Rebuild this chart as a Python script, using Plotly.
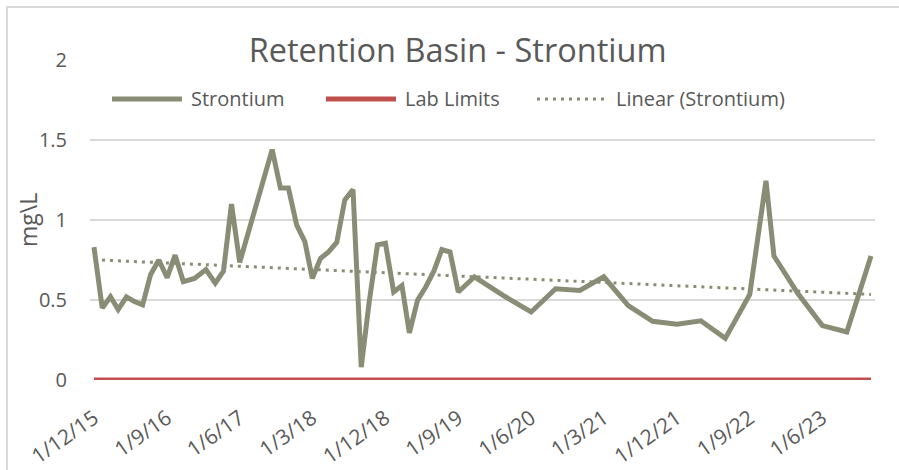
import numpy as np
import pandas as pd
import plotly.graph_objects as go

# ---------------- data ----------------
sample_dates = [
    "2015-12-01", "2016-01-01", "2016-02-01", "2016-03-01", "2016-04-01", "2016-05-01",
    "2016-06-01", "2016-07-01", "2016-08-01", "2016-09-01", "2016-10-01", "2016-11-01",
    "2016-12-13", "2017-01-25", "2017-03-01", "2017-04-01", "2017-05-01", "2017-06-01",
    "2017-10-01", "2017-11-01", "2017-12-01", "2018-01-01", "2018-02-01", "2018-03-01",
    "2018-04-01", "2018-05-01", "2018-06-01", "2018-07-01", "2018-08-01", "2018-09-01",
    "2018-10-01", "2018-11-01", "2018-12-01", "2019-01-01", "2019-02-01", "2019-03-01",
    "2019-04-01", "2019-05-01", "2019-06-01", "2019-07-01", "2019-08-01", "2019-09-01",
    "2019-11-01", "2020-02-15", "2020-06-01", "2020-09-01", "2020-12-01", "2021-03-01",
    "2021-06-01", "2021-09-01", "2021-12-01", "2022-03-01", "2022-06-01", "2022-09-01",
    "2022-11-01", "2022-12-01", "2023-03-01", "2023-06-01", "2023-09-01", "2023-12-01",
]
strontium = [
    0.83, 0.45, 0.52, 0.44, 0.52, 0.49,
    0.47, 0.66, 0.75, 0.64, 0.78, 0.615,
    0.635, 0.69, 0.605, 0.68, 1.10, 0.735,
    1.44, 1.20, 1.20, 0.97, 0.865, 0.635,
    0.76, 0.80, 0.86, 1.125, 1.19, 0.08,
    0.49, 0.845, 0.855, 0.55, 0.59, 0.295,
    0.50, 0.58, 0.68, 0.815, 0.80, 0.55,
    0.645, 0.53, 0.425, 0.57, 0.56, 0.645,
    0.465, 0.367, 0.348, 0.37, 0.26, 0.535,
    1.245, 0.775, 0.54, 0.34, 0.30, 0.775,
]
lab_limit_dates = ["2015-12-01", "2023-12-01"]
lab_limits = [0, 0]

tick_dates = ["2015-12-01", "2016-09-01", "2017-06-01", "2018-03-01", "2018-12-01",
              "2019-09-01", "2020-06-01", "2021-03-01", "2021-12-01", "2022-09-01",
              "2023-06-01"]
tick_labels = ["1/12/15", "1/9/16", "1/6/17", "1/3/18", "1/12/18", "1/9/19",
               "1/6/20", "1/3/21", "1/12/21", "1/9/22", "1/6/23"]
y_ticks = [0, 0.5, 1, 1.5, 2]
y_tick_labels = ["0", "0.5", "1", "1.5", "2"]

# ---------------- styling ----------------
W, H = 899, 470
ML, MR, MT, MB = 90, 24, 60, 90
PW, PH = W - ML - MR, H - MT - MB
FONT = "Open Sans"
TXT = "#595959"
C_SR = "#898D75"
C_LAB = "#C0504D"
DOTS = "3px,5px"


def px(x):
    return (x - ML) / PW


def py(y):
    return (H - MB - y) / PH


# linear trendline computed from the series (least squares on the dates)
d = pd.to_datetime(sample_dates)
days = (d - d[0]).days.values.astype(float)
slope, intercept = np.polyfit(days, np.array(strontium), 1)
trend_x = [sample_dates[0], sample_dates[-1]]
trend_y = [intercept + slope * days[0], intercept + slope * days[-1]]

fig = go.Figure()
fig.add_trace(go.Scatter(x=sample_dates, y=strontium, mode="lines", name="Strontium",
                         line=dict(color=C_SR, width=5), hoverinfo="x+y"))
fig.add_trace(go.Scatter(x=lab_limit_dates, y=lab_limits, mode="lines", name="Lab Limits",
                         line=dict(color=C_LAB, width=5)))
fig.add_trace(go.Scatter(x=trend_x, y=trend_y, mode="lines", name="Linear (Strontium)",
                         line=dict(color=C_SR, width=3, dash=DOTS)))

x0 = pd.Timestamp(sample_dates[0]) - pd.Timedelta(days=15)
x1 = pd.Timestamp(sample_dates[-1]) + pd.Timedelta(days=15)

fig.update_layout(
    width=W, height=H,
    margin=dict(l=ML, r=MR, t=MT, b=MB, pad=0, autoexpand=False),
    paper_bgcolor="white", plot_bgcolor="white",
    showlegend=False,
    font=dict(family=FONT, color=TXT, size=20),
    title=dict(text="Retention Basin - Strontium", x=0.509, xanchor="center",
               y=0.893, yanchor="middle", xref="container", yref="container",
               font=dict(family=FONT, size=32.5, color=TXT)),
    xaxis=dict(type="date", range=[x0, x1], tickmode="array", tickvals=tick_dates,
               ticktext=tick_labels, tickangle=-35, showgrid=False, zeroline=False,
               showline=False, ticks="", ticklabelstandoff=21, automargin=False,
               tickfont=dict(size=21, color=TXT, family=FONT)),
    yaxis=dict(range=[0, 2], tickmode="array", tickvals=y_ticks, ticktext=y_tick_labels,
               showgrid=True, gridcolor="#D9D9D9", gridwidth=1.5, zeroline=False,
               showline=False, ticks="", ticklabelstandoff=22, automargin=False,
               tickfont=dict(size=20, color=TXT, family=FONT)),
)

shapes = []
annots = []
# chart border (top and left edges visible)
shapes.append(dict(type="path", xref="paper", yref="paper",
                   path=f"M {px(7)},{py(475)} L {px(7)},{py(7)} L {px(905)},{py(7)}",
                   line=dict(color="#D9D9D9", width=2)))
# manual legend
leg_y = py(99)
shapes.append(dict(type="line", xref="paper", yref="paper", x0=px(112), x1=px(182),
                   y0=leg_y, y1=leg_y, line=dict(color=C_SR, width=5)))
shapes.append(dict(type="line", xref="paper", yref="paper", x0=px(326), x1=px(396),
                   y0=leg_y, y1=leg_y, line=dict(color=C_LAB, width=5)))
shapes.append(dict(type="line", xref="paper", yref="paper", x0=px(537), x1=px(604),
                   y0=leg_y, y1=leg_y, line=dict(color=C_SR, width=3, dash=DOTS)))
for txt, x in [("Strontium", 189), ("Lab Limits", 403), ("Linear (Strontium)", 614)]:
    annots.append(dict(text=txt, x=px(x), y=leg_y, xref="paper", yref="paper",
                       xanchor="left", yanchor="middle", showarrow=False,
                       font=dict(family=FONT, size=20, color=TXT)))
# y axis title
annots.append(dict(text="mg\\L", x=px(28), y=py(220), xref="paper", yref="paper",
                   xanchor="center", yanchor="middle", textangle=-90, showarrow=False,
                   font=dict(family=FONT, size=23, color=TXT)))
fig.update_layout(shapes=shapes, annotations=annots)

fig.write_html("out.html", config={"displayModeBar": False},
               post_script="document.body.style.margin='0';")
